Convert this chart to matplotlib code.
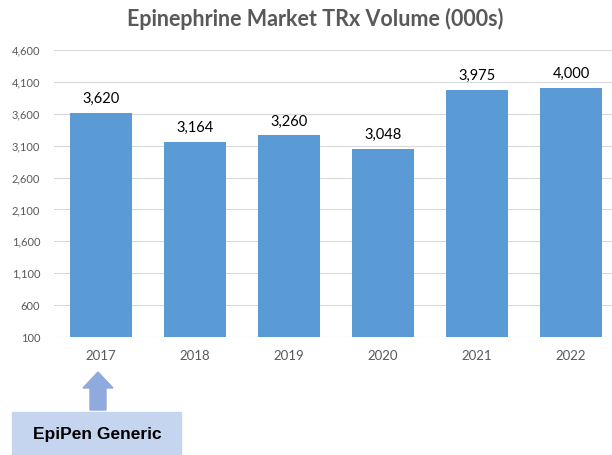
import matplotlib.pyplot as plt
from matplotlib.patches import FancyArrow, Rectangle

# Volumes de TRx (milhares)
anos = ['2017', '2018', '2019', '2020', '2021', '2022']
volumes = [3620, 3164, 3260, 3048, 3975, 4000]
ticks_y = [100, 600, 1100, 1600, 2100, 2600, 3100, 3600, 4100, 4600]

plt.rcParams['font.family'] = ['Lato', 'DejaVu Sans']

fig = plt.figure(figsize=(6.12, 4.55), dpi=100)
ax = fig.add_axes([54 / 612, 1 - 337 / 455, 564 / 612, 287 / 455])

x = range(len(anos))
barras = ax.bar(x, volumes, width=0.66, color='#5B9BD5', zorder=2)
ax.set_ylim(100, 4600)
ax.set_xlim(-0.5, 5.5)
ax.set_yticks(ticks_y)
ax.set_yticklabels([f'{v:,}' for v in ticks_y], fontsize=8, color='#595959')
ax.set_xticks(list(x))
ax.set_xticklabels(anos, fontsize=9.5, color='#595959')
ax.tick_params(length=0)
ax.tick_params(axis='x', pad=9)
ax.tick_params(axis='y', pad=10)
ax.grid(axis='y', color='#D9D9D9', linewidth=0.8, zorder=0)
for lado in ax.spines.values():
    lado.set_visible(False)

# Rótulos com o valor de cada barra
for xi, v in zip(x, volumes):
    ax.text(xi, v + 110, f'{v:,}', ha='center', va='bottom', fontsize=10.5, color='black')

fig.text(315 / 612, 1 - 19 / 455, 'Epinephrine Market TRx Volume (000s)',
         ha='center', va='center', fontsize=15.5, fontweight='bold', color='#595959')

# Seta e caixa indicando o genérico da EpiPen
fig.patches.append(FancyArrow(98 / 612, 1 - 410 / 455, 0, 38 / 455, width=16 / 612,
                              head_width=30 / 612, head_length=16 / 455,
                              length_includes_head=True, color='#8FAADC',
                              transform=fig.transFigure, figure=fig))
fig.patches.append(Rectangle((12 / 612, 0), 169 / 612, 43 / 455, color='#C5D4EF',
                             transform=fig.transFigure, figure=fig))
fig.text(97 / 612, 1 - 434 / 455, 'EpiPen Generic', ha='center', va='center',
         fontsize=12.5, fontweight='bold', family='Liberation Sans', color='black')

fig.savefig('out.png', dpi=100)
